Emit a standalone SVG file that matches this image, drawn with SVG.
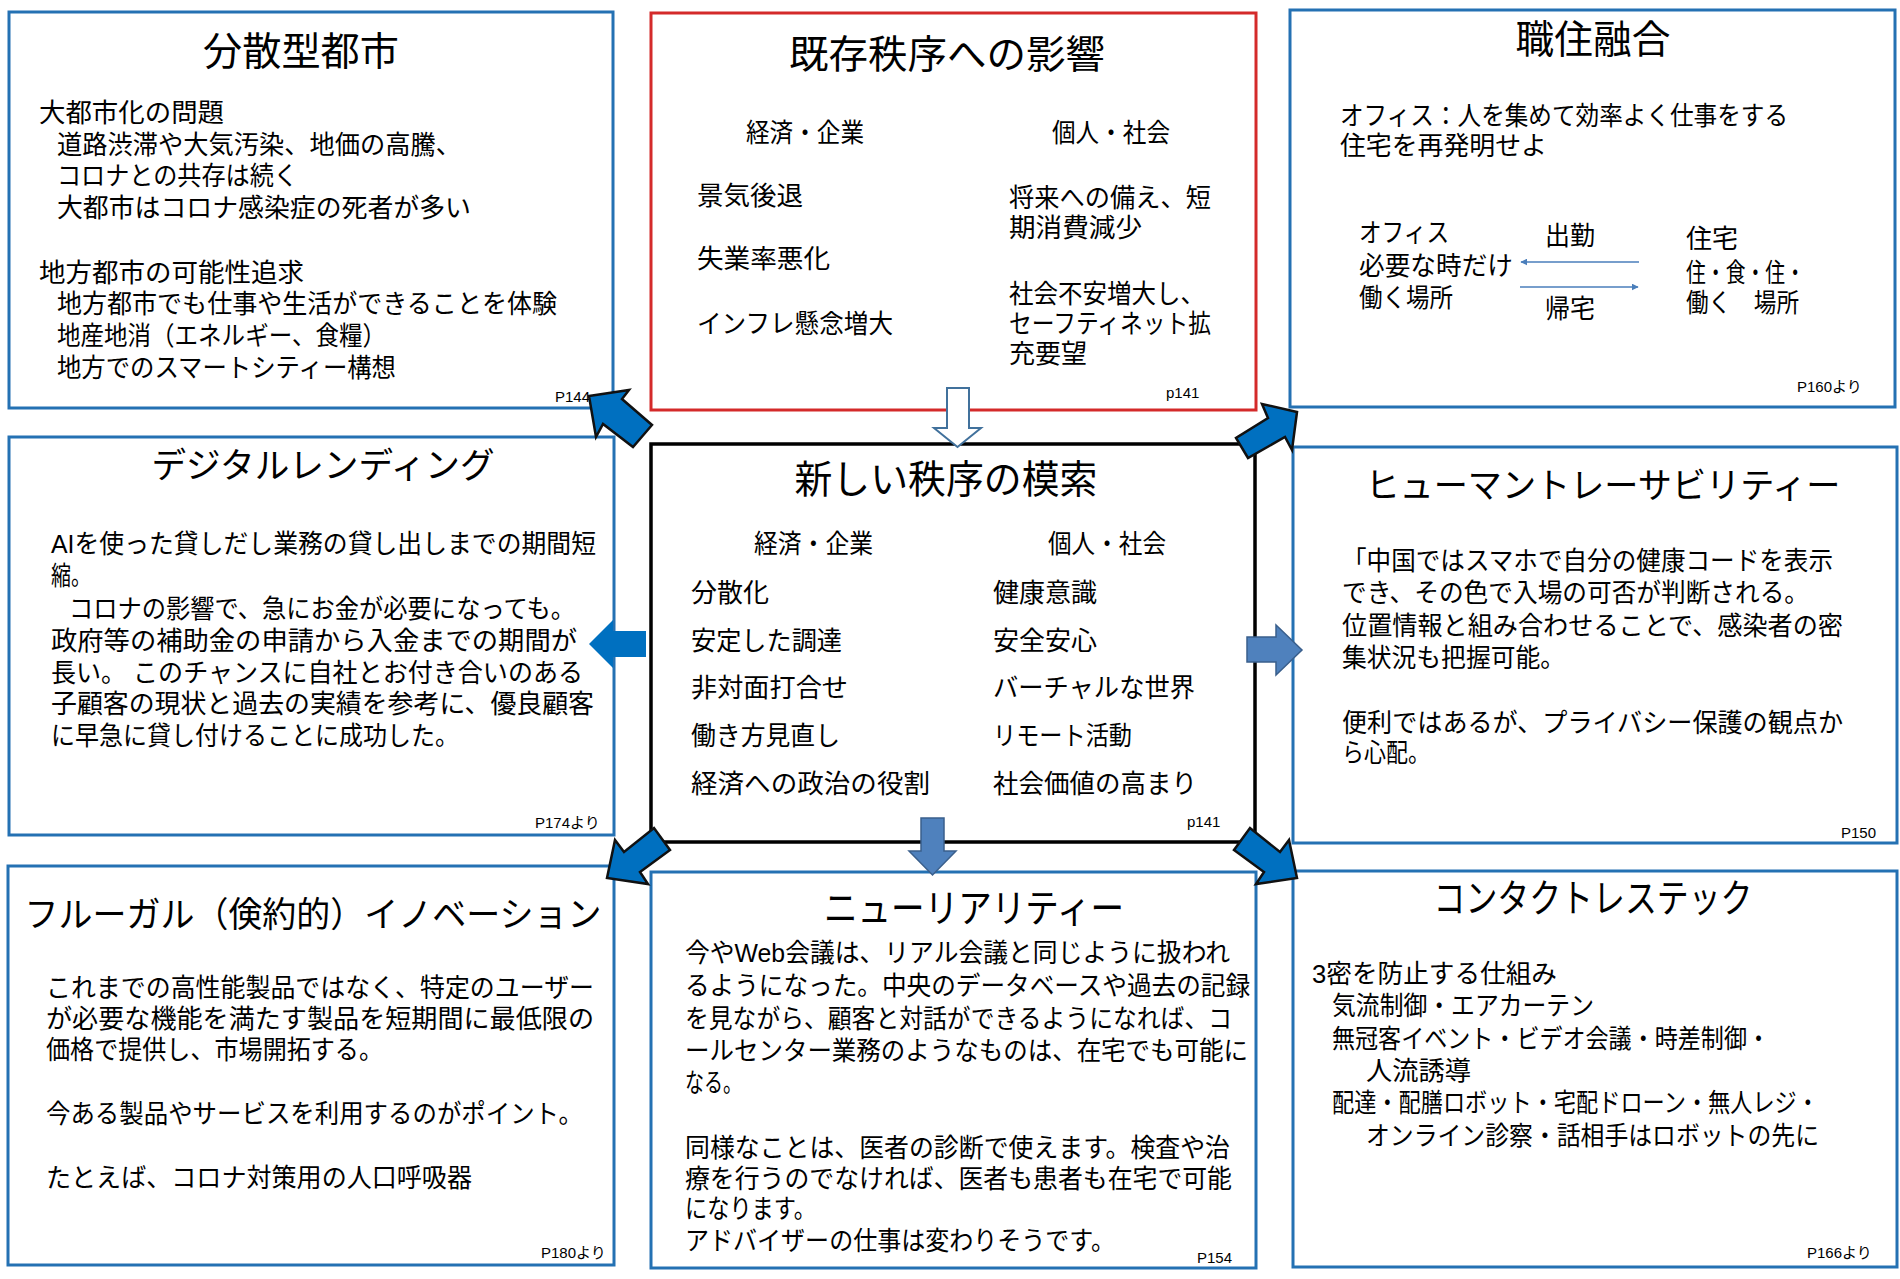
<svg xmlns="http://www.w3.org/2000/svg" width="1900" height="1279" viewBox="0 0 1900 1279">
<style>
.box{fill:#fff;stroke:#2471B3;stroke-width:3}
.red{stroke:#D42A2A}
.blk{stroke:#000;stroke-width:3.5}
text{font-family:"Liberation Sans","Noto Sans CJK JP",sans-serif;font-size:26px;fill:#000}
.h{font-size:39px;text-anchor:middle}
.hs{font-size:35px}
.p{font-size:15px}
.bigA{fill:#0070C0;stroke:#111;stroke-width:2.5;stroke-linejoin:miter}
.stA{fill:#4F81BD;stroke:#3A5F8C;stroke-width:1.5}
.thin{stroke:#4A7EBB;stroke-width:1.5;fill:none}
</style>
<defs>
<marker id="ah" viewBox="0 0 10 10" refX="9" refY="5" markerWidth="7" markerHeight="7" orient="auto" markerUnits="userSpaceOnUse">
<path d="M0,0 L10,5 L0,10 z" fill="#4A7EBB"/>
</marker>
</defs>
<rect width="1900" height="1279" fill="#fff"/>

<g id="node-bunsan">
<rect class="box" x="9" y="12" width="604" height="396"/>
<text class="h" x="301" y="65" textLength="196" lengthAdjust="spacingAndGlyphs">分散型都市</text>
<text x="39" y="122" textLength="185" lengthAdjust="spacingAndGlyphs">大都市化の問題</text>
<text x="57" y="154" textLength="404" lengthAdjust="spacingAndGlyphs">道路渋滞や大気汚染、地価の高騰、</text>
<text x="57" y="185" textLength="241" lengthAdjust="spacingAndGlyphs">コロナとの共存は続く</text>
<text x="57" y="217" textLength="414" lengthAdjust="spacingAndGlyphs">大都市はコロナ感染症の死者が多い</text>
<text x="39" y="282" textLength="265" lengthAdjust="spacingAndGlyphs">地方都市の可能性追求</text>
<text x="57" y="313" textLength="500" lengthAdjust="spacingAndGlyphs">地方都市でも仕事や生活ができることを体験</text>
<text x="57" y="345" textLength="329" lengthAdjust="spacingAndGlyphs">地産地消（エネルギー、食糧）</text>
<text x="57" y="377" textLength="339" lengthAdjust="spacingAndGlyphs">地方でのスマートシティー構想</text>
<text class="p" x="555" y="402">P144</text>
</g>

<g id="node-kizon">
<rect class="box red" x="651" y="13" width="605" height="397"/>
<text class="h" x="947" y="68" textLength="316" lengthAdjust="spacingAndGlyphs">既存秩序への影響</text>
<text x="746" y="142" textLength="118" lengthAdjust="spacingAndGlyphs">経済・企業</text>
<text x="1052" y="142" textLength="118" lengthAdjust="spacingAndGlyphs">個人・社会</text>
<text x="697" y="205" textLength="106" lengthAdjust="spacingAndGlyphs">景気後退</text>
<text x="697" y="268" textLength="133" lengthAdjust="spacingAndGlyphs">失業率悪化</text>
<text x="697" y="333" textLength="196" lengthAdjust="spacingAndGlyphs">インフレ懸念増大</text>
<text x="1009" y="207" textLength="202" lengthAdjust="spacingAndGlyphs">将来への備え、短</text>
<text x="1009" y="237" textLength="133" lengthAdjust="spacingAndGlyphs">期消費減少</text>
<text x="1009" y="303" textLength="196" lengthAdjust="spacingAndGlyphs">社会不安増大し、</text>
<text x="1009" y="333" textLength="202" lengthAdjust="spacingAndGlyphs">セーフティネット拡</text>
<text x="1009" y="363" textLength="78" lengthAdjust="spacingAndGlyphs">充要望</text>
<text class="p" x="1166" y="398">p141</text>
</g>

<g id="node-shokuju">
<rect class="box" x="1290" y="10" width="605" height="397"/>
<text class="h" x="1593" y="53" textLength="155" lengthAdjust="spacingAndGlyphs">職住融合</text>
<text x="1340" y="125" textLength="448" lengthAdjust="spacingAndGlyphs">オフィス：人を集めて効率よく仕事をする</text>
<text x="1340" y="155" textLength="207" lengthAdjust="spacingAndGlyphs">住宅を再発明せよ</text>
<text x="1359" y="242" textLength="90" lengthAdjust="spacingAndGlyphs">オフィス</text>
<text x="1359" y="275" textLength="154" lengthAdjust="spacingAndGlyphs">必要な時だけ</text>
<text x="1359" y="307" textLength="94" lengthAdjust="spacingAndGlyphs">働く場所</text>
<text x="1545" y="245" textLength="50" lengthAdjust="spacingAndGlyphs">出勤</text>
<text x="1545" y="318" textLength="50" lengthAdjust="spacingAndGlyphs">帰宅</text>
<text x="1686" y="248" textLength="52" lengthAdjust="spacingAndGlyphs">住宅</text>
<text x="1686" y="282" textLength="119" lengthAdjust="spacingAndGlyphs">住・食・住・</text>
<text x="1686" y="312" textLength="113" lengthAdjust="spacingAndGlyphs">働く　場所</text>
<text class="p" x="1797" y="392">P160より</text>
</g>

<g id="node-digital">
<rect class="box" x="9" y="437" width="605" height="398"/>
<text class="h hs" x="323" y="478" textLength="343" lengthAdjust="spacingAndGlyphs">デジタルレンディング</text>
<text x="51" y="553" textLength="545" lengthAdjust="spacingAndGlyphs">AIを使った貸しだし業務の貸し出しまでの期間短</text>
<text x="51" y="585" textLength="40" lengthAdjust="spacingAndGlyphs">縮。</text>
<text x="69" y="618" textLength="506" lengthAdjust="spacingAndGlyphs">コロナの影響で、急にお金が必要になっても。</text>
<text x="51" y="650" textLength="526" lengthAdjust="spacingAndGlyphs">政府等の補助金の申請から入金までの期間が</text>
<text x="51" y="682" textLength="532" lengthAdjust="spacingAndGlyphs">長い。 このチャンスに自社とお付き合いのある</text>
<text x="51" y="713" textLength="543" lengthAdjust="spacingAndGlyphs">子顧客の現状と過去の実績を参考に、優良顧客</text>
<text x="51" y="745" textLength="408" lengthAdjust="spacingAndGlyphs">に早急に貸し付けることに成功した。</text>
<text class="p" x="535" y="828">P174より</text>
</g>

<g id="node-atarashii">
<rect class="box blk" x="651" y="444" width="604" height="398"/>
<text class="h" x="946" y="493" textLength="303" lengthAdjust="spacingAndGlyphs">新しい秩序の模索</text>
<text x="754" y="553" textLength="119" lengthAdjust="spacingAndGlyphs">経済・企業</text>
<text x="1048" y="553" textLength="118" lengthAdjust="spacingAndGlyphs">個人・社会</text>
<text x="691" y="602" textLength="78" lengthAdjust="spacingAndGlyphs">分散化</text>
<text x="691" y="650" textLength="151" lengthAdjust="spacingAndGlyphs">安定した調達</text>
<text x="691" y="697" textLength="157" lengthAdjust="spacingAndGlyphs">非対面打合せ</text>
<text x="691" y="745" textLength="149" lengthAdjust="spacingAndGlyphs">働き方見直し</text>
<text x="691" y="793" textLength="239" lengthAdjust="spacingAndGlyphs">経済への政治の役割</text>
<text x="993" y="602" textLength="104" lengthAdjust="spacingAndGlyphs">健康意識</text>
<text x="993" y="650" textLength="104" lengthAdjust="spacingAndGlyphs">安全安心</text>
<text x="993" y="697" textLength="202" lengthAdjust="spacingAndGlyphs">バーチャルな世界</text>
<text x="993" y="745" textLength="139" lengthAdjust="spacingAndGlyphs">リモート活動</text>
<text x="993" y="793" textLength="204" lengthAdjust="spacingAndGlyphs">社会価値の高まり</text>
<text class="p" x="1187" y="827">p141</text>
</g>

<g id="node-human">
<rect class="box" x="1293" y="447" width="604" height="396"/>
<text class="h hs" x="1603" y="498" textLength="475" lengthAdjust="spacingAndGlyphs">ヒューマントレーサビリティー</text>
<text x="1342" y="570" textLength="491" lengthAdjust="spacingAndGlyphs">「中国ではスマホで自分の健康コードを表示</text>
<text x="1342" y="602" textLength="467" lengthAdjust="spacingAndGlyphs">でき、その色で入場の可否が判断される。</text>
<text x="1342" y="635" textLength="501" lengthAdjust="spacingAndGlyphs">位置情報と組み合わせることで、感染者の密</text>
<text x="1342" y="667" textLength="223" lengthAdjust="spacingAndGlyphs">集状況も把握可能。</text>
<text x="1342" y="732" textLength="501" lengthAdjust="spacingAndGlyphs">便利ではあるが、プライバシー保護の観点か</text>
<text x="1342" y="762" textLength="88" lengthAdjust="spacingAndGlyphs">ら心配。</text>
<text class="p" x="1841" y="838">P150</text>
</g>

<g id="node-frugal">
<rect class="box" x="8" y="866" width="606" height="399"/>
<text class="h hs" x="313" y="927" textLength="577" lengthAdjust="spacingAndGlyphs">フルーガル（倹約的）イノベーション</text>
<text x="46" y="997" textLength="548" lengthAdjust="spacingAndGlyphs">これまでの高性能製品ではなく、特定のユーザー</text>
<text x="46" y="1028" textLength="548" lengthAdjust="spacingAndGlyphs">が必要な機能を満たす製品を短期間に最低限の</text>
<text x="46" y="1059" textLength="337" lengthAdjust="spacingAndGlyphs">価格で提供し、市場開拓する。</text>
<text x="46" y="1123" textLength="537" lengthAdjust="spacingAndGlyphs">今ある製品やサービスを利用するのがポイント。</text>
<text x="46" y="1187" textLength="426" lengthAdjust="spacingAndGlyphs">たとえば、コロナ対策用の人口呼吸器</text>
<text class="p" x="541" y="1258">P180より</text>
</g>

<g id="node-newreality">
<rect class="box" x="651" y="872" width="605" height="396"/>
<text class="h" x="974" y="922" textLength="300" lengthAdjust="spacingAndGlyphs">ニューリアリティー</text>
<text x="685" y="962" textLength="545" lengthAdjust="spacingAndGlyphs">今やWeb会議は、リアル会議と同じように扱われ</text>
<text x="685" y="995" textLength="565" lengthAdjust="spacingAndGlyphs">るようになった。中央のデータベースや過去の記録</text>
<text x="685" y="1028" textLength="547" lengthAdjust="spacingAndGlyphs">を見ながら、顧客と対話ができるようになれば、コ</text>
<text x="685" y="1060" textLength="563" lengthAdjust="spacingAndGlyphs">ールセンター業務のようなものは、在宅でも可能に</text>
<text x="685" y="1092" textLength="57" lengthAdjust="spacingAndGlyphs">なる。</text>
<text x="685" y="1157" textLength="545" lengthAdjust="spacingAndGlyphs">同様なことは、医者の診断で使えます。検査や治</text>
<text x="685" y="1188" textLength="547" lengthAdjust="spacingAndGlyphs">療を行うのでなければ、医者も患者も在宅で可能</text>
<text x="685" y="1218" textLength="131" lengthAdjust="spacingAndGlyphs">になります。</text>
<text x="685" y="1250" textLength="430" lengthAdjust="spacingAndGlyphs">アドバイザーの仕事は変わりそうです。</text>
<text class="p" x="1197" y="1263">P154</text>
</g>

<g id="node-contactless">
<rect class="box" x="1293" y="871" width="604" height="396"/>
<text class="h" x="1593" y="912" textLength="319" lengthAdjust="spacingAndGlyphs">コンタクトレステック</text>
<text x="1312" y="983" textLength="245" lengthAdjust="spacingAndGlyphs">3密を防止する仕組み</text>
<text x="1332" y="1015" textLength="262" lengthAdjust="spacingAndGlyphs">気流制御・エアカーテン</text>
<text x="1332" y="1048" textLength="438" lengthAdjust="spacingAndGlyphs">無冠客イベント・ビデオ会議・時差制御・</text>
<text x="1366" y="1080" textLength="105" lengthAdjust="spacingAndGlyphs">人流誘導</text>
<text x="1332" y="1112" textLength="487" lengthAdjust="spacingAndGlyphs">配達・配膳ロボット・宅配ドローン・無人レジ・</text>
<text x="1366" y="1145" textLength="453" lengthAdjust="spacingAndGlyphs">オンライン診察・話相手はロボットの先に</text>
<text class="p" x="1807" y="1258">P166より</text>
</g>

<g id="connectors">
<line class="thin" x1="1639" y1="262" x2="1521" y2="262" marker-end="url(#ah)"/>
<line class="thin" x1="1520" y1="287" x2="1638" y2="287" marker-end="url(#ah)"/>
<polygon points="947,388 969,388 969,428 981,428 957.5,447 934,428 947,428" fill="#fff" stroke="#41719C" stroke-width="2"/>
<polygon points="589,644 613,620 613,631 646,631 646,657 613,657 613,668" fill="#0070C0"/>
<polygon class="stA" points="1247,637 1276,637 1276,625 1302,650 1276,675 1276,662 1247,662"/>
<polygon class="stA" points="921,818 944,818 944,851 956,851 932.5,875 909,851 921,851"/>
<polygon class="bigA" points="589,396 629,390 622,399 652,425 633,447 603,424 596,437"/>
<polygon class="bigA" points="1297,412 1292,450 1285,437 1248,458 1236,438 1268,418 1262,404"/>
<polygon class="bigA" points="607,878 615,840 624,852 654,828 670,850 640,872 648,884"/>
<polygon class="bigA" points="1297,878 1289,840 1280,852 1250,828 1234,850 1264,872 1256,884"/>
</g>
</svg>
